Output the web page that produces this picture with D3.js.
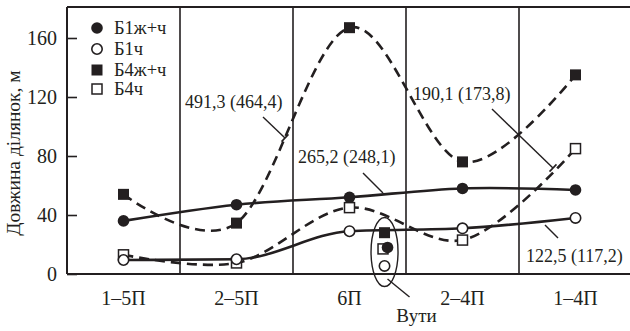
<!DOCTYPE html>
<html><head><meta charset="utf-8">
<script src="https://cdn.jsdelivr.net/npm/d3@7"></script>
<style>
html,body{margin:0;padding:0;background:#fff;}
svg{display:block;}
text{font-family:"Liberation Serif","Times New Roman",serif;fill:#231f20;}
</style></head>
<body><svg id="c" width="630" height="331"></svg>
<script>
const categories = ["1–5П","2–5П","6П","2–4П","1–4П"];
const seriesNames = ["Б1ж+ч","Б1ч","Б4ж+ч","Б4ч"];
const b1zhch = [36, 47, 52, 58, 57];
const b1ch   = [9.5, 10, 29, 31, 38];
const b4zhch = [54, 34.5, 167, 76, 135];
const b4ch   = [13, 7.5, 45, 23, 85];
const vutyValues = [18, 5.5, 28, 17]; // Б1ж+ч, Б1ч, Б4ж+ч, Б4ч
const vutyLabel = "Вути";
const yTicks = [0, 40, 80, 120, 160];
const yTitle = "Довжина ділянок, м";
const annotations = ["491,3 (464,4)", "265,2 (248,1)", "190,1 (173,8)", "122,5 (117,2)"];

const svg = d3.select("#c");
const ink = "#231f20";
const x = d3.scaleBand().domain(categories).range([67, 632]).padding(0);
const y = d3.scaleLinear().domain([0, 160]).range([274, 38]);
const cx = c => x(c) + x.bandwidth() / 2;
const frameTop = 7;

// frame
svg.append("line").attr("x1", 67).attr("x2", 632).attr("y1", frameTop).attr("y2", frameTop).attr("stroke", ink).attr("stroke-width", 2);
// dividers
categories.slice(1).forEach(c => {
  svg.append("line").attr("x1", x(c)).attr("x2", x(c)).attr("y1", frameTop).attr("y2", y(0))
    .attr("stroke", ink).attr("stroke-width", 1.6);
});

// y axis
const yAxis = d3.axisLeft(y).tickValues(yTicks).tickSize(-10).tickPadding(10).tickFormat(d3.format("d"));
const gy = svg.append("g").attr("transform", "translate(67,0)").call(yAxis);
gy.select(".domain").attr("d", `M0,${frameTop}V${y(0)}`).attr("stroke", ink).attr("stroke-width", 2);
gy.selectAll(".tick line").attr("stroke", ink).attr("stroke-width", 1.6);
gy.selectAll(".tick text").attr("font-size", 20).attr("font-family", "Liberation Serif").attr("fill", ink).attr("dy", "0.33em");

// x axis
const xAxis = d3.axisBottom(x).tickSize(0).tickPadding(17);
const gx = svg.append("g").attr("transform", `translate(0,${y(0)})`).call(xAxis);
gx.select(".domain").attr("d", `M67,0H632`).attr("stroke", ink).attr("stroke-width", 2);
gx.selectAll(".tick text").attr("font-size", 20).attr("font-family", "Liberation Serif").attr("fill", ink).attr("dy", "0.71em");

// y title
svg.append("text").attr("transform", "translate(20,153) rotate(-90)").attr("text-anchor", "middle")
  .attr("font-size", 19.5).text(yTitle);

// lines
const mkLine = curve => d3.line().x((d, i) => cx(categories[i])).y(d => y(d)).curve(curve);
const lineSpecs = [
  {data: b4zhch, dash: "10,6", curve: d3.curveCardinal.tension(0)},
  {data: b4ch, dash: "10,6", curve: d3.curveCatmullRom.alpha(0.5)},
  {data: b1zhch, dash: null, curve: d3.curveCatmullRom.alpha(0.5)},
  {data: b1ch, dash: null, curve: d3.curveMonotoneX}
];
lineSpecs.forEach(s => {
  svg.append("path").attr("d", mkLine(s.curve)(s.data)).attr("fill", "none").attr("stroke", ink)
    .attr("stroke-width", 2.6).attr("stroke-dasharray", s.dash);
});

// markers
function marker(g, type, px, py) {
  if (type === 0) g.append("circle").attr("cx", px).attr("cy", py).attr("r", 5.8).attr("fill", ink);
  else if (type === 1) g.append("circle").attr("cx", px).attr("cy", py).attr("r", 5.2).attr("fill", "#fff").attr("stroke", ink).attr("stroke-width", 1.6);
  else if (type === 2) g.append("rect").attr("x", px - 5.5).attr("y", py - 5.5).attr("width", 11).attr("height", 11).attr("fill", ink);
  else g.append("rect").attr("x", px - 5).attr("y", py - 5).attr("width", 10).attr("height", 10).attr("fill", "#fff").attr("stroke", ink).attr("stroke-width", 1.5);
}
const mg = svg.append("g");
[b4zhch, b4ch, b1zhch, b1ch].forEach((arr, k) => {
  const type = [2, 3, 0, 1][k];
  arr.forEach((v, i) => marker(mg, type, cx(categories[i]), y(v)));
});

// Вути group
const vx = cx("6П") + x.bandwidth() * 0.31;
marker(mg, 2, vx, y(vutyValues[2]));
marker(mg, 3, vx - 1.5, y(vutyValues[3]));
marker(mg, 0, vx + 3, y(vutyValues[0]));
marker(mg, 1, vx, y(vutyValues[1]));
svg.append("ellipse").attr("cx", vx).attr("cy", 252).attr("rx", 13.5).attr("ry", 34.5)
  .attr("fill", "none").attr("stroke", ink).attr("stroke-width", 1.4);
svg.append("line").attr("x1", vx + 3).attr("y1", 279).attr("x2", vx + 25).attr("y2", 297).attr("stroke", ink).attr("stroke-width", 1.4);
svg.append("text").attr("x", vx + 32).attr("y", 322).attr("text-anchor", "middle").attr("font-size", 19).text(vutyLabel);

// legend
const lg = svg.append("g");
seriesNames.forEach((n, i) => {
  const ly = [28, 49, 70, 89][i];
  marker(lg, i, 97, ly);
  lg.append("text").attr("x", 114).attr("y", ly).attr("dy", "0.33em").attr("font-size", 18.5).text(n);
});

// annotations
const annPos = [
  {tx: 185, ty: 108, lx1: 263, ly1: 117, lx2: 285, ly2: 138, tick: true},
  {tx: 298, ty: 163, lx1: 363, ly1: 173, lx2: 383, ly2: 193, tick: false},
  {tx: 413, ty: 100, lx1: 492, ly1: 109, lx2: 553, ly2: 168, tick: true},
  {tx: 526, ty: 262, lx1: 545, ly1: 225, lx2: 558, ly2: 238, tick: false}
];
annotations.forEach((t, i) => {
  const p = annPos[i];
  svg.append("text").attr("x", p.tx).attr("y", p.ty).attr("font-size", 18).text(t);
  svg.append("line").attr("x1", p.lx1).attr("y1", p.ly1).attr("x2", p.lx2).attr("y2", p.ly2).attr("stroke", ink).attr("stroke-width", 1.4);
  if (p.tick) {
    const dx = p.lx2 - p.lx1, dy = p.ly2 - p.ly1, L = Math.hypot(dx, dy);
    const nx = -dy / L * 5, ny = dx / L * 5;
    svg.append("line").attr("x1", p.lx2 - nx).attr("y1", p.ly2 - ny).attr("x2", p.lx2 + nx).attr("y2", p.ly2 + ny)
      .attr("stroke", ink).attr("stroke-width", 1.6);
  }
});
</script></body></html>
